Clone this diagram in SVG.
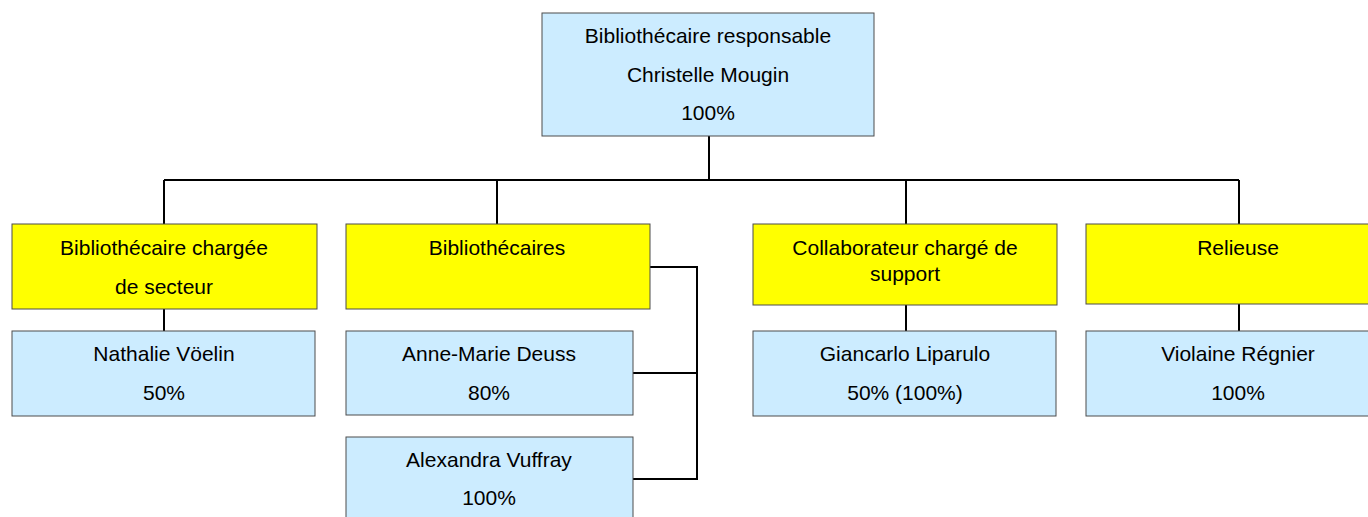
<svg xmlns="http://www.w3.org/2000/svg" width="1368" height="517" viewBox="0 0 1368 517">
<style>
.b{fill:#CCECFF;stroke:#4d4d4d;stroke-width:1}
.y{fill:#FFFF00;stroke:#4d4d4d;stroke-width:1}
text{font-family:"Liberation Sans",Arial,sans-serif;font-size:21px;fill:#000;text-anchor:middle}
.c{fill:none;stroke:#000;stroke-width:2}
</style>
<rect width="1368" height="517" fill="#fff"/>
<g id="connectors">
<path class="c" d="M709,136 V180 M164,180 H1239 M164,180 V224 M497,180 V224 M906,180 V224 M1239,180 V224"/>
<path class="c" d="M164,309 V331 M906,305 V331 M1239,304 V331"/>
<path class="c" d="M650,267 H697 V479 H633 M633,373 H697"/>
</g>
<g id="n-top"><rect class="b" x="542" y="13" width="332" height="123"/>
<text x="708" y="43">Bibliothécaire responsable</text><text x="708" y="82">Christelle Mougin</text><text x="708" y="120">100%</text></g>
<g id="n-secteur"><rect class="y" x="12" y="224" width="305" height="85"/>
<text x="164" y="255">Bibliothécaire chargée</text><text x="164" y="294">de secteur</text></g>
<g id="n-biblio"><rect class="y" x="346" y="224" width="304" height="85"/>
<text x="497" y="255">Bibliothécaires</text></g>
<g id="n-collab"><rect class="y" x="753" y="224" width="304" height="81"/>
<text x="905" y="255">Collaborateur chargé de</text><text x="905" y="281">support</text></g>
<g id="n-relieuse"><rect class="y" x="1086" y="224" width="304" height="80"/>
<text x="1238" y="255">Relieuse</text></g>
<g id="n-nathalie"><rect class="b" x="12" y="331" width="303" height="85"/>
<text x="164" y="361">Nathalie Vöelin</text><text x="164" y="400">50%</text></g>
<g id="n-annemarie"><rect class="b" x="346" y="331" width="287" height="84"/>
<text x="489" y="361">Anne-Marie Deuss</text><text x="489" y="400">80%</text></g>
<g id="n-alexandra"><rect class="b" x="346" y="437" width="287" height="85"/>
<text x="489" y="467">Alexandra Vuffray</text><text x="489" y="505">100%</text></g>
<g id="n-giancarlo"><rect class="b" x="753" y="331" width="303" height="85"/>
<text x="905" y="361">Giancarlo Liparulo</text><text x="905" y="400">50% (100%)</text></g>
<g id="n-violaine"><rect class="b" x="1086" y="331" width="304" height="85"/>
<text x="1238" y="361">Violaine Régnier</text><text x="1238" y="400">100%</text></g>
</svg>
